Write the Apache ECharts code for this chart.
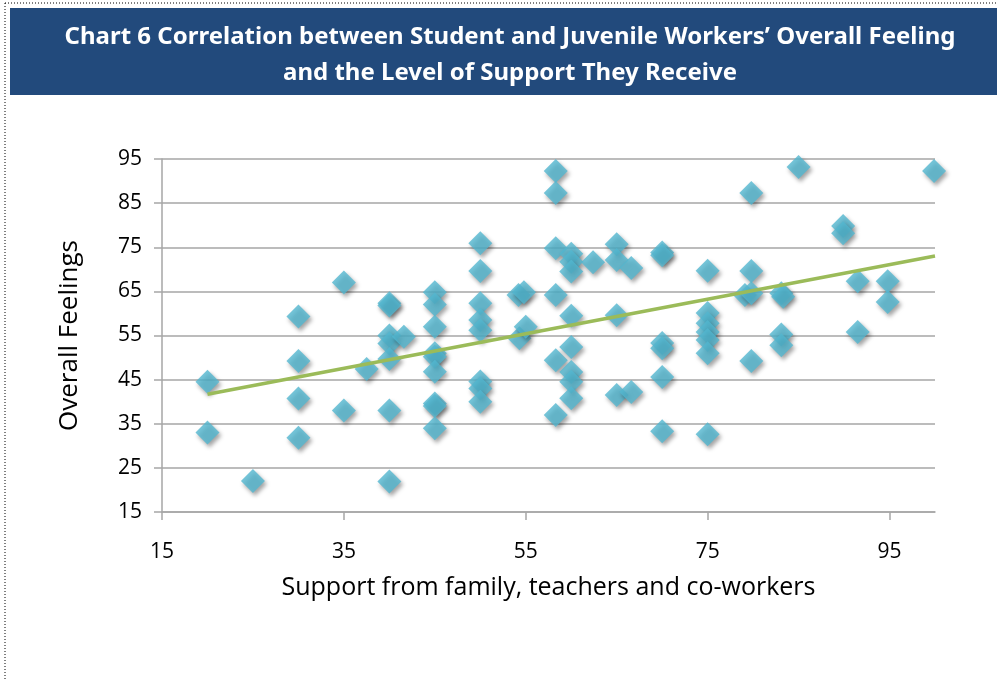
<!DOCTYPE html>
<html>
<head>
<meta charset="utf-8">
<script src="https://cdn.jsdelivr.net/npm/echarts@6/dist/echarts.min.js"></script>
<style>
  html, body { margin: 0; padding: 0; background: #fff; }
  #chart { width: 997px; height: 679px; }
</style>
</head>
<body>
<div id="chart"></div>
<script>
// support score (x) for each respondent
const supportScores = [
  20, 20, 25, 30, 30, 30, 30, 35, 35, 37.5,
  40, 40, 40, 40, 40, 40, 40, 41.6, 45, 45,
  45, 45, 45, 45, 45, 45, 45, 50, 50, 50,
  50, 50, 50, 50, 50, 54.2, 54.8, 54.3, 55, 58.3,
  58.3, 58.3, 58.3, 58.3, 58.3, 60, 60, 60, 60, 60,
  60, 60, 60, 62.4, 65, 65, 65, 65, 66.6, 66.6,
  70, 70, 70, 70, 70, 70, 75, 75, 75, 75,
  75, 75, 75, 79.8, 79.8, 79.1, 79.8, 79.8, 83.1, 83.3,
  83.1, 83.1, 85, 89.9, 89.9, 91.5, 91.5, 94.8, 94.8, 99.9
];
// overall feeling score (y) for each respondent
const feelingScores = [
  44.5, 33, 22, 59.3, 49.2, 40.7, 31.8, 67, 38, 47.4,
  62.3, 61.8, 55, 53.2, 49.7, 38, 21.9, 54.7, 64.8, 62,
  57, 51, 50.2, 46.8, 39.6, 39, 34, 75.9, 69.6, 62.3,
  58.5, 56.2, 44.6, 43, 40, 64.2, 64.8, 54.4, 57, 92.3,
  87.3, 74.8, 64.2, 49.4, 37, 73.5, 71.7, 69.5, 59.5, 52.4,
  46.7, 44.5, 40.8, 71.6, 75.7, 72.1, 59.6, 41.5, 70.3, 42.2,
  73.8, 73.2, 53.3, 52.1, 45.6, 33.3, 69.7, 60.1, 57.8, 55.8,
  54, 51, 32.6, 87.3, 69.6, 64.2, 64.6, 49.2, 64.6, 63.8,
  55.2, 52.8, 93.2, 79.8, 78.2, 67.3, 55.8, 67.3, 62.6, 92.3
];
// linear trendline end points
const trendX = [20, 100];
const trendY = [41.7, 73];

const xTickLabels = [15, 35, 55, 75, 95];

const points = supportScores.map((x, i) => [x, feelingScores[i]]);
const trend = trendX.map((x, i) => [x, trendY[i]]);

const chart = echarts.init(document.getElementById("chart"));
const axisGray = "#a6a6a6";
const textFont = "'Open Sans', 'Noto Sans', sans-serif";

chart.setOption({
  animation: false,
  backgroundColor: "#fff",
  title: {
    text: "Chart 6 Correlation between Student and Juvenile Workers\u2019 Overall Feeling\nand the Level of Support They Receive",
    left: 505,
    top: 14,
    textAlign: "center",
    textStyle: {
      color: "#fff",
      fontFamily: "'Noto Sans', sans-serif",
      fontWeight: "bold",
      fontSize: 24,
      lineHeight: 36,
    },
  },
  graphic: [
    {
      type: "rect",
      z: -1,
      shape: { x: 10, y: 8, width: 987, height: 87 },
      style: { fill: "#224a7c" },
    },
    {
      type: "line",
      shape: { x1: 5, y1: 3, x2: 997, y2: 3 },
      style: { stroke: "#000", lineWidth: 1, lineDash: [1, 2] },
    },
    {
      type: "line",
      shape: { x1: 5, y1: 3, x2: 5, y2: 679 },
      style: { stroke: "#000", lineWidth: 1, lineDash: [1, 2] },
    },
  ],
  grid: {
    left: 162,
    top: 159,
    right: 62,
    bottom: 167,
  },
  xAxis: {
    type: "value",
    min: 15,
    max: 100,
    interval: 20,
    name: "Support from family, teachers and co-workers",
    nameLocation: "middle",
    nameGap: 63,
    nameTextStyle: { color: "#000", fontSize: 25, fontFamily: textFont },
    splitLine: { show: false },
    axisLine: { show: true, lineStyle: { color: axisGray, width: 1.5 } },
    axisTick: {
      show: true,
      length: 8,
      customValues: xTickLabels,
      lineStyle: { color: axisGray, width: 1.5 },
    },
    axisLabel: {
      customValues: xTickLabels,
      color: "#000",
      fontSize: 21,
      fontFamily: textFont,
      margin: 30,
    },
  },
  yAxis: {
    type: "value",
    min: 15,
    max: 95,
    interval: 10,
    name: "Overall Feelings",
    nameLocation: "middle",
    nameGap: 79,
    nameTextStyle: { color: "#000", fontSize: 26, fontFamily: textFont },
    axisLine: { show: true, lineStyle: { color: axisGray, width: 1.5 } },
    axisTick: { show: true, length: 8, lineStyle: { color: axisGray, width: 1.5 } },
    splitLine: { lineStyle: { color: axisGray, width: 1.5 } },
    axisLabel: {
      color: "#000",
      fontSize: 21,
      fontFamily: textFont,
      margin: 20,
    },
  },
  series: [
    {
      type: "scatter",
      data: points,
      symbol: "diamond",
      symbolSize: 24,
      itemStyle: {
        color: "#52b6cf",
        shadowColor: "rgba(0, 0, 0, 0.45)",
        shadowBlur: 4,
        shadowOffsetX: 2,
        shadowOffsetY: 3,
      },
    },
    {
      type: "line",
      data: trend,
      symbol: "none",
      lineStyle: { color: "#9bbb59", width: 3.5 },
      z: 3,
    },
  ],
});
</script>
</body>
</html>
